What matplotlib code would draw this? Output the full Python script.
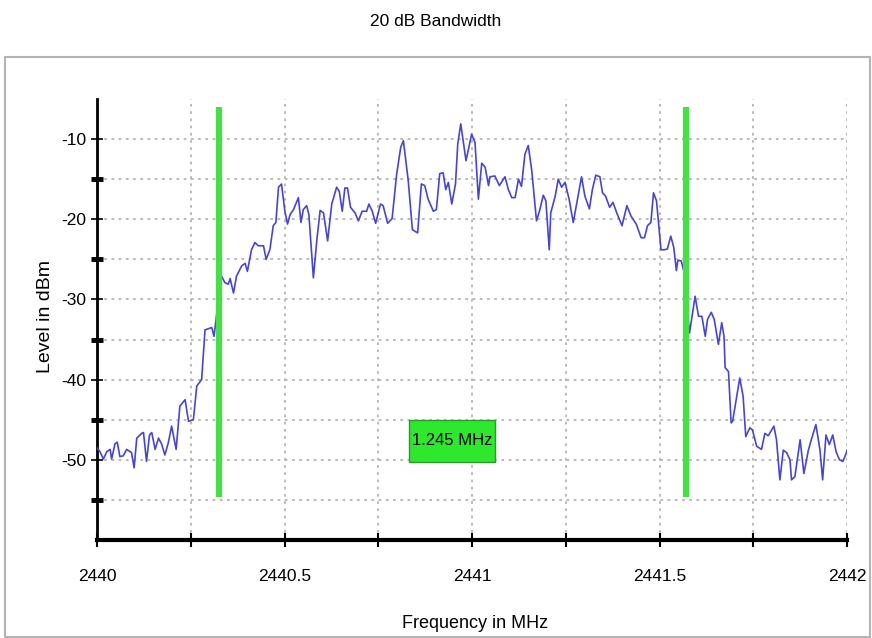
import numpy as np
import matplotlib
matplotlib.use("Agg")
import matplotlib.pyplot as plt
from matplotlib.patches import Rectangle
from matplotlib.ticker import MultipleLocator, FixedLocator

plt.rcParams["font.family"] = ["Liberation Sans", "DejaVu Sans"]
plt.rcParams["axes.unicode_minus"] = False

# ─ DATA ─
F0 = 2440.0
# offsets from 2440 MHz
f_off = [
    0.000, 0.008, 0.017, 0.026, 0.035, 0.039, 0.048, 0.054, 0.061, 0.070,
    0.079, 0.092, 0.099, 0.106, 0.119, 0.124, 0.132, 0.140, 0.146, 0.155,
    0.164, 0.172, 0.181, 0.190, 0.199, 0.211, 0.221, 0.235, 0.244, 0.257,
    0.266, 0.279, 0.288, 0.306, 0.312, 0.324, 0.332, 0.341, 0.350, 0.355,
    0.364, 0.372, 0.386, 0.395, 0.401, 0.412, 0.421, 0.430, 0.444, 0.451,
    0.461, 0.470, 0.477, 0.484, 0.492, 0.501, 0.508, 0.515, 0.524, 0.537,
    0.544, 0.550, 0.559, 0.565, 0.577, 0.586, 0.595, 0.604, 0.615, 0.626,
    0.639, 0.646, 0.654, 0.661, 0.668, 0.676, 0.688, 0.697, 0.707, 0.719,
    0.725, 0.734, 0.743, 0.756, 0.763, 0.775, 0.787, 0.799, 0.810, 0.817,
    0.830, 0.841, 0.855, 0.865, 0.874, 0.883, 0.897, 0.905, 0.914, 0.923,
    0.930, 0.937, 0.946, 0.956, 0.962, 0.970, 0.984, 0.999, 1.008, 1.017,
    1.026, 1.035, 1.044, 1.048, 1.061, 1.073, 1.088, 1.097, 1.106, 1.115,
    1.124, 1.132, 1.141, 1.150, 1.159, 1.172, 1.181, 1.190, 1.197, 1.206,
    1.210, 1.222, 1.230, 1.239, 1.248, 1.259, 1.270, 1.279, 1.292, 1.301,
    1.313, 1.321, 1.330, 1.341, 1.348, 1.356, 1.367, 1.376, 1.386, 1.400,
    1.413, 1.424, 1.438, 1.451, 1.460, 1.468, 1.477, 1.484, 1.492, 1.504,
    1.513, 1.521, 1.530, 1.538, 1.545, 1.549, 1.558, 1.565, 1.580, 1.595,
    1.604, 1.613, 1.622, 1.628, 1.638, 1.646, 1.657, 1.666, 1.672, 1.675,
    1.684, 1.691, 1.695, 1.714, 1.723, 1.730, 1.741, 1.748, 1.759, 1.772,
    1.781, 1.790, 1.805, 1.812, 1.821, 1.830, 1.839, 1.848, 1.852, 1.861,
    1.875, 1.885, 1.897, 1.906, 1.917, 1.928, 1.935, 1.944, 1.953, 1.962,
    1.971, 1.980, 1.989, 1.997, 2.000,
]
level = [
    -48.5, -49.0, -49.9, -49.0, -48.7, -49.9, -48.0, -47.8, -49.6, -49.5,
    -48.7, -49.1, -51.0, -47.3, -46.7, -46.6, -50.2, -46.9, -46.6, -48.7,
    -47.3, -48.0, -49.4, -47.9, -45.8, -48.7, -43.3, -42.5, -45.2, -45.0,
    -40.8, -40.0, -33.8, -33.5, -34.6, -30.0, -27.1, -27.9, -28.1, -27.4,
    -29.2, -27.1, -25.8, -25.5, -26.5, -23.8, -22.9, -23.3, -23.3, -25.0,
    -23.8, -20.8, -20.4, -16.0, -15.6, -19.0, -20.6, -19.4, -18.8, -17.3,
    -20.4, -18.8, -18.3, -19.4, -27.3, -22.7, -18.9, -19.2, -22.7, -18.1,
    -16.0, -16.5, -19.0, -16.1, -16.1, -18.5, -19.2, -20.2, -19.0, -19.0,
    -18.1, -19.0, -20.5, -18.1, -18.3, -20.5, -19.9, -14.4, -11.0, -10.2,
    -15.2, -21.3, -21.7, -15.6, -15.8, -17.5, -19.0, -18.8, -14.3, -14.2,
    -16.3, -15.4, -18.1, -15.6, -10.6, -8.1, -12.7, -9.4, -10.4, -17.5,
    -13.0, -13.5, -15.8, -14.7, -14.6, -15.8, -14.7, -16.3, -17.3, -17.3,
    -15.0, -15.9, -11.9, -10.8, -13.8, -20.2, -18.8, -17.0, -17.7, -23.8,
    -19.2, -17.1, -15.0, -16.0, -15.4, -17.5, -20.4, -18.1, -14.7, -17.1,
    -18.7, -16.3, -14.5, -14.7, -16.7, -17.1, -18.5, -17.9, -19.2, -20.8,
    -18.3, -19.6, -20.6, -22.3, -22.3, -20.8, -20.4, -16.7, -17.7, -23.8,
    -23.8, -23.7, -22.1, -23.5, -26.4, -25.1, -25.2, -26.5, -34.2, -29.6,
    -32.1, -32.1, -34.6, -32.5, -31.6, -32.5, -35.6, -32.9, -34.6, -38.5,
    -39.0, -45.4, -45.2, -39.8, -42.1, -47.1, -46.0, -46.3, -48.3, -48.7,
    -46.7, -47.0, -45.8, -47.5, -52.5, -48.8, -49.1, -50.0, -52.5, -52.1,
    -47.5, -51.7, -48.8, -47.3, -45.6, -48.8, -52.5, -46.9, -48.1, -46.9,
    -49.0, -50.0, -50.2, -49.3, -48.8,
]
band_edges = [2440.326, 2441.571]
marker_top, marker_bottom = -6.0, -54.6

freq = F0 + np.array(f_off)
bw_text = f"{band_edges[1] - band_edges[0]:.3f} MHz"

# ─ FIGURE ─
fig = plt.figure(figsize=(8.72, 6.38), dpi=100)
fig.patches.append(Rectangle((5 / 872, 1 / 638), 865 / 872, 580 / 638,
                             transform=fig.transFigure, fill=False,
                             edgecolor="#b4b4b4", lw=1.5))
fig.text(0.5, 1 - 21 / 638, "20 dB Bandwidth", ha="center", va="center",
         fontsize=12.5)

ax = fig.add_axes([97 / 872, 98 / 638, 750 / 872, 441 / 638])
ax.set_xlim(2440, 2442)
ax.set_ylim(-60, -5)

for s in ("top", "right"):
    ax.spines[s].set_visible(False)
ax.spines["bottom"].set_linewidth(3)
ax.spines["left"].set_linewidth(2)

ax.xaxis.set_major_locator(MultipleLocator(0.5))
ax.xaxis.set_minor_locator(FixedLocator([2440.25, 2440.75, 2441.25, 2441.75]))
ax.yaxis.set_major_locator(FixedLocator([-50, -40, -30, -20, -10]))
ax.yaxis.set_minor_locator(FixedLocator([-55, -45, -35, -25, -15]))
ax.xaxis.set_major_formatter(plt.FuncFormatter(lambda v, p: f"{v:g}"))

ax.tick_params(axis="x", which="both", direction="inout", length=10,
               width=1.5, pad=16, labelsize=12.5)
ax.tick_params(axis="y", which="major", direction="inout", length=8,
               width=1.2, pad=4, labelsize=12.5)
ax.tick_params(axis="y", which="minor", direction="inout", length=8,
               width=3.5)

ax.grid(True, which="both", color="#b4b4b4", lw=1.3, ls=(0, (1.5, 2.5)))

ax.plot(freq, level, color="#4646d2", lw=1.2, zorder=3)
ax.vlines(band_edges, marker_bottom, marker_top, color="#46e046", lw=4.5,
          zorder=4)

# bandwidth label box
ax.add_patch(Rectangle((2440.832, -50.25), 0.229, 5.25, facecolor="#2ee82e",
                       edgecolor="#2a9a2a", lw=1, zorder=5))
ax.text(2440.9465, -47.65, bw_text, ha="center", va="center", fontsize=12,
        zorder=6)

ax.set_xlabel("Frequency in MHz", fontsize=13)
ax.xaxis.set_label_coords(0.504, -0.17)
ax.set_ylabel("Level in dBm", fontsize=14)
ax.yaxis.set_label_coords(-0.058, 0.506)

fig.savefig("out.png", dpi=100)
